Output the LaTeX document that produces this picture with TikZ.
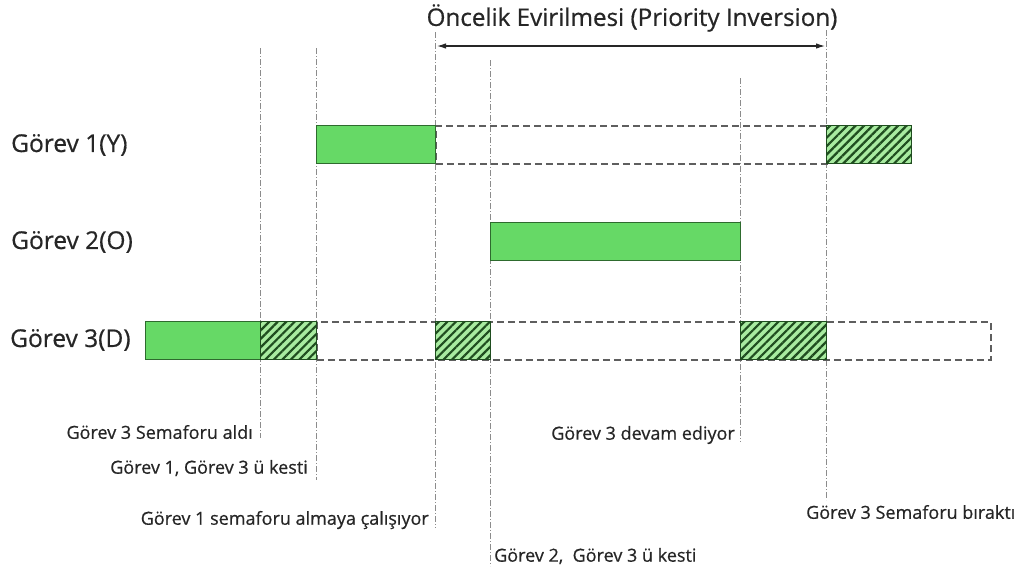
\documentclass[tikz,border=0pt]{standalone}
\usepackage{fontspec}
\setmainfont{Open Sans}[FakeBold=0.6]
\usetikzlibrary{patterns.meta,arrows.meta}
\definecolor{barfill}{HTML}{66D966}
\definecolor{barline}{HTML}{2E6B2E}
\definecolor{hatchbg}{HTML}{A8EBA0}
\definecolor{hatchln}{HTML}{1F4D1F}
\definecolor{guide}{HTML}{8C8C8C}
\definecolor{idle}{HTML}{5E5E5E}
\tikzset{
  bar/.style={anchor=north west, inner sep=0pt, minimum height=38pt},
  runbox/.style={bar, fill=barfill, draw=barline, line width=0.8pt},
  lockbox/.style={bar, fill=hatchbg, draw=hatchln, line width=0.8pt,
    postaction={pattern={Lines[angle=45,distance=6pt,line width=2.2pt]}, pattern color=hatchln}},
  waitbox/.style={bar, draw=idle, line width=1.6pt, dash pattern=on 7pt off 4pt},
  guideline/.style={draw=guide, line width=0.9pt, dash pattern=on 6pt off 2pt on 1pt off 2pt},
  tasklabel/.style={font=\fontsize{24.5}{28}\selectfont, text=black!85, inner sep=0pt},
  eventlabel/.style={font=\fontsize{18}{20}\selectfont, text=black!85, inner sep=0pt},
}
\begin{document}
\begin{tikzpicture}[x=1pt,y=-1pt]
\useasboundingbox (0,0) rectangle (1030,574);

% time markers
\coordinate (t1a) at (260,48);  \coordinate (t1b) at (260,438);
\coordinate (t2a) at (316,48);  \coordinate (t2b) at (316,480);
\coordinate (t3a) at (435,32);  \coordinate (t3b) at (435,528);
\coordinate (t4a) at (490,60);  \coordinate (t4b) at (490,566);
\coordinate (t5a) at (740,78);  \coordinate (t5b) at (740,442);
\coordinate (t6a) at (826,30);  \coordinate (t6b) at (826,500);
\foreach \i in {1,...,6} \draw[guideline] (t\i a) -- (t\i b);

% title and span arrow
\node[font=\fontsize{24.2}{28}\selectfont, text=black!85, inner sep=0pt] (title) at (632,18) {Öncelik Evirilmesi (Priority Inversion)};
\coordinate (pL) at (437,46);
\coordinate (pR) at (825,46);
\draw[line width=1.1pt, black!85, {Latex[length=9pt,width=5.5pt]}-{Latex[length=9pt,width=5.5pt]}] (pL) -- (pR);

% task names
\node[tasklabel, anchor=west] (n1) at (11,145) {Görev 1(Y)};
\node[tasklabel, anchor=west] (n2) at (11,242) {Görev 2(O)};
\node[tasklabel, anchor=west] (n3) at (10,340) {Görev 3(D)};

% Görev 1
\node[waitbox, minimum width=391pt] (w1) at (435,125) {};
\node[runbox, minimum width=119pt] (r1) at (316,125) {};
\node[lockbox, minimum width=85pt] (l1) at (826,125) {};

% Görev 2
\node[runbox, minimum width=250pt] (r2) at (490,222) {};

% Görev 3
\node[waitbox, minimum width=674pt] (w3) at (316,321) {};
\node[runbox, minimum width=115pt] (r3) at (145,321) {};
\node[lockbox, minimum width=56pt] (l3a) at (260,321) {};
\node[lockbox, minimum width=55pt] (l3b) at (435,321) {};
\node[lockbox, minimum width=86pt] (l3c) at (740,321) {};

% events
\node[eventlabel, anchor=east] (e1) at (253,432) {Görev 3 Semaforu aldı};
\node[eventlabel, anchor=east] (e2) at (308,468) {Görev 1, Görev 3 ü kesti};
\node[eventlabel, anchor=east] (e3) at (429,520) {Görev 1 semaforu almaya çalışıyor};
\node[eventlabel, anchor=east] (e4) at (735,435) {Görev 3 devam ediyor};
\node[eventlabel, anchor=west] (e5) at (806,512) {Görev 3 Semaforu bıraktı};
\node[eventlabel, anchor=west] (e6) at (494,556) {Görev 2, \ Görev 3 ü kesti};
\end{tikzpicture}
\end{document}
